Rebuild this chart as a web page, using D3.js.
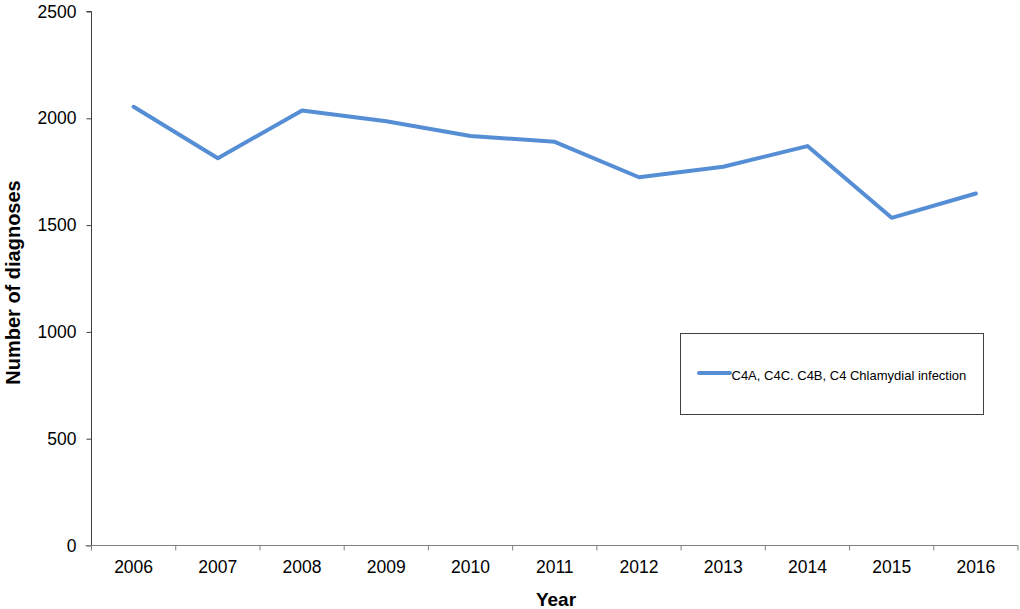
<!DOCTYPE html>
<html>
<head>
<meta charset="utf-8">
<script src="https://cdn.jsdelivr.net/npm/d3@7"></script>
<style>
  html, body { margin: 0; padding: 0; background: #fff; }
  svg { display: block; font-family: "Liberation Sans", Arial, sans-serif; }
</style>
</head>
<body>
<svg id="chart" width="1020" height="609"></svg>
<script>
// Annual diagnoses, 2006–2016
const years = ["2006", "2007", "2008", "2009", "2010", "2011", "2012", "2013", "2014", "2015", "2016"];
const diagnoses = [2054, 1813, 2037, 1986, 1917, 1890, 1724, 1773, 1870, 1534, 1648];
const yTicks = [0, 500, 1000, 1500, 2000, 2500];
const seriesName = "C4A, C4C. C4B, C4 Chlamydial infection";

const svg = d3.select("#chart");
const margin = { left: 91.5, right: 1018, top: 11.5, bottom: 545.5 };
const lineColor = "#558ed5";

const x = d3.scaleBand().domain(years).range([margin.left, margin.right]);
const y = d3.scaleLinear().domain([0, 2500]).range([margin.bottom, margin.top]);

// Y axis
const yAxis = svg.append("g")
  .attr("transform", `translate(${margin.left},0)`)
  .call(d3.axisLeft(y).tickValues(yTicks).tickSize(5).tickPadding(10).tickFormat(d3.format("d")));
yAxis.select(".domain").attr("stroke", "#404040").attr("d", `M-5,${y(2500)}H0V${y(0)}`);
yAxis.selectAll(".tick line").attr("stroke", "#404040");
yAxis.selectAll(".tick text").attr("font-size", 17.5).attr("fill", "#000")
  .attr("font-family", "Liberation Sans, Arial, sans-serif");

// X axis: ticks sit on category boundaries
const xAxis = svg.append("g").attr("transform", `translate(0,${margin.bottom})`);
xAxis.append("line")
  .attr("x1", margin.left - 6).attr("x2", margin.right)
  .attr("y1", 0).attr("y2", 0)
  .attr("stroke", "#808080");
const boundaries = years.map(d => x(d)).concat([x(years[years.length - 1]) + x.bandwidth()]);
xAxis.selectAll("line.tk").data(boundaries).join("line")
  .attr("class", "tk")
  .attr("x1", d => d).attr("x2", d => d)
  .attr("y1", 0).attr("y2", 5)
  .attr("stroke", "#808080");
xAxis.selectAll("text").data(years).join("text")
  .attr("x", d => x(d) + x.bandwidth() / 2)
  .attr("y", 27.5)
  .attr("text-anchor", "middle")
  .attr("font-size", 17.5)
  .attr("fill", "#000")
  .text(d => d);

// Axis titles
svg.append("text")
  .attr("x", 556).attr("y", 606)
  .attr("text-anchor", "middle")
  .attr("font-size", 19).attr("font-weight", "bold")
  .text("Year");
svg.append("text")
  .attr("transform", `translate(20,282.5) rotate(-90)`)
  .attr("text-anchor", "middle")
  .attr("font-size", 20).attr("font-weight", "bold")
  .text("Number of diagnoses");

// Data line
const line = d3.line()
  .x((d, i) => x(years[i]) + x.bandwidth() / 2)
  .y(d => y(d));
svg.append("path")
  .datum(diagnoses)
  .attr("d", line)
  .attr("fill", "none")
  .attr("stroke", lineColor)
  .attr("stroke-width", 4)
  .attr("stroke-linejoin", "round")
  .attr("stroke-linecap", "round");

// Legend
const legend = svg.append("g");
legend.append("rect")
  .attr("x", 680.5).attr("y", 333.5)
  .attr("width", 303).attr("height", 81)
  .attr("fill", "#fff").attr("stroke", "#404040").attr("stroke-width", 1);
legend.append("line")
  .attr("x1", 699).attr("x2", 730)
  .attr("y1", 373).attr("y2", 373)
  .attr("stroke", lineColor).attr("stroke-width", 4).attr("stroke-linecap", "round");
legend.append("text")
  .attr("x", 731.5).attr("y", 380)
  .attr("font-size", 13).attr("fill", "#000")
  .text(seriesName);
</script>
</body>
</html>
